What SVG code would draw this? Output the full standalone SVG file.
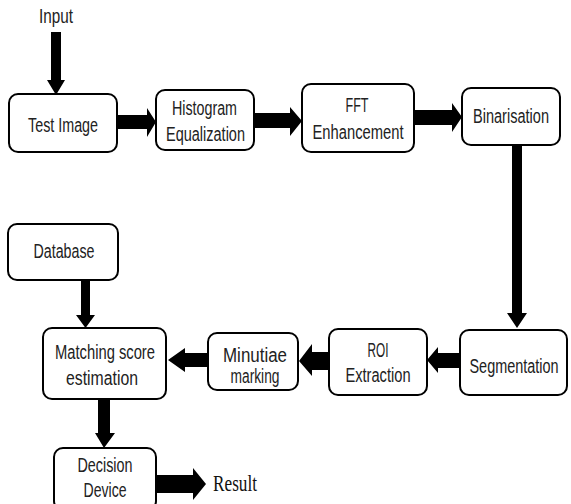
<svg xmlns="http://www.w3.org/2000/svg" width="571" height="504" viewBox="0 0 571 504">
<style>
.box{fill:#fff;stroke:#000;stroke-width:2}
.t{font-family:"Liberation Sans",Arial,sans-serif;font-size:19.5px;fill:#222;text-anchor:middle}
.r{font-family:"Liberation Serif","Times New Roman",serif;font-size:23px;fill:#111}
.arr{fill:#000}
</style>
<rect width="571" height="504" fill="#fff"/>
<text class="t" transform="translate(56,23) scale(0.75,1)" textLength="45.3" lengthAdjust="spacingAndGlyphs">Input</text>
<g id="connectors">
<polygon class="arr" points="51,32 61,32 61,80 65,80 56,95 47,80 51,80"/>
<polygon class="arr" points="117,115 147,115 147,108 156,122 147,137 147,129 117,129"/>
<polygon class="arr" points="254,113 290,113 290,107 302,121 290,136 290,128 254,128"/>
<polygon class="arr" points="414,110 452,110 452,103 462,117 452,132 452,125 414,125"/>
<polygon class="arr" points="512,145 522,145 522,313 527,313 517,328 507,313 512,313"/>
<polygon class="arr" points="460,353 438,353 438,347 427,360 438,373 438,368 460,368"/>
<polygon class="arr" points="329,352 312,352 312,344 299,361 312,376 312,370 329,370"/>
<polygon class="arr" points="208,353 185,353 185,348 168,360 185,372 185,367 208,367"/>
<polygon class="arr" points="81,280 90,280 90,315 95,315 85.5,328 76,315 81,315"/>
<polygon class="arr" points="98,399 110,399 110,433 115,433 104,448 95,433 98,433"/>
<polygon class="arr" points="156,475 193,475 193,468 206,484 193,500 193,493 156,493"/>
</g>
<g id="test-image"><rect class="box" x="9" y="94" width="108" height="58" rx="9"/><text class="t" transform="translate(63,132) scale(0.75,1)" textLength="93.3" lengthAdjust="spacingAndGlyphs">Test Image</text></g>
<g id="histogram"><rect class="box" x="156" y="90" width="98" height="60" rx="9"/><text class="t" transform="translate(204.5,115) scale(0.75,1)" textLength="86.7" lengthAdjust="spacingAndGlyphs">Histogram</text><text class="t" transform="translate(205.5,141) scale(0.75,1)" textLength="105.3" lengthAdjust="spacingAndGlyphs">Equalization</text></g>
<g id="fft"><rect class="box" x="302" y="84" width="112" height="68" rx="9"/><text class="t" transform="translate(357,112) scale(0.75,1)" textLength="30.7" lengthAdjust="spacingAndGlyphs">FFT</text><text class="t" transform="translate(358,139) scale(0.75,1)" textLength="121.3" lengthAdjust="spacingAndGlyphs">Enhancement</text></g>
<g id="binarisation"><rect class="box" x="462" y="88" width="98" height="57" rx="9"/><text class="t" transform="translate(511,123) scale(0.75,1)" textLength="101.3" lengthAdjust="spacingAndGlyphs">Binarisation</text></g>
<g id="segmentation"><rect class="box" x="460" y="330" width="107" height="65" rx="9"/><text class="t" transform="translate(514,373) scale(0.75,1)" textLength="118.7" lengthAdjust="spacingAndGlyphs">Segmentation</text></g>
<g id="roi"><rect class="box" x="329" y="329" width="98" height="66" rx="9"/><text class="t" transform="translate(378,357) scale(0.75,1)" textLength="28" lengthAdjust="spacingAndGlyphs">ROI</text><text class="t" transform="translate(378,382) scale(0.75,1)" textLength="86.7" lengthAdjust="spacingAndGlyphs">Extraction</text></g>
<g id="minutiae"><rect class="box" x="208" y="333" width="90" height="57" rx="9"/><text class="t" transform="translate(255,362) scale(0.75,1)" textLength="85.3" lengthAdjust="spacingAndGlyphs">Minutiae</text><text class="t" transform="translate(255,383) scale(0.75,1)" textLength="65.3" lengthAdjust="spacingAndGlyphs">marking</text></g>
<g id="matching"><rect class="box" x="43" y="328" width="123" height="71" rx="9"/><text class="t" transform="translate(105,359) scale(0.75,1)" textLength="133.3" lengthAdjust="spacingAndGlyphs">Matching score</text><text class="t" transform="translate(102,385) scale(0.75,1)" textLength="96" lengthAdjust="spacingAndGlyphs">estimation</text></g>
<g id="database"><rect class="box" x="8" y="224" width="110" height="56" rx="9"/><text class="t" transform="translate(64,258) scale(0.75,1)" textLength="81.3" lengthAdjust="spacingAndGlyphs">Database</text></g>
<g id="decision"><rect class="box" x="54" y="448" width="102" height="62" rx="9"/><text class="t" transform="translate(105,472) scale(0.75,1)" textLength="73.3" lengthAdjust="spacingAndGlyphs">Decision</text><text class="t" transform="translate(105,497) scale(0.75,1)" textLength="57.3" lengthAdjust="spacingAndGlyphs">Device</text></g>
<text class="r" transform="translate(213,491) scale(0.75,1)" textLength="58.7" lengthAdjust="spacingAndGlyphs">Result</text>
</svg>
